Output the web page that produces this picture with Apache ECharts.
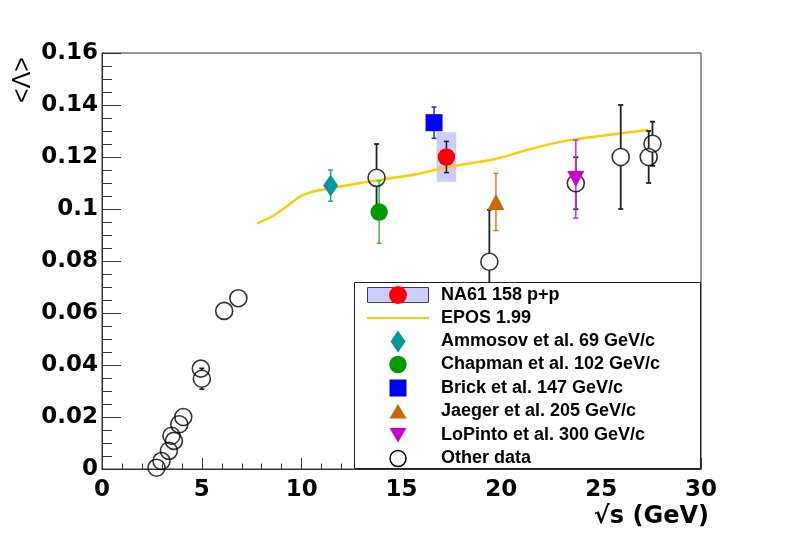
<!DOCTYPE html>
<html>
<head>
<meta charset="utf-8">
<script src="https://cdn.jsdelivr.net/npm/echarts@6/dist/echarts.min.js"></script>
<style>
html,body{margin:0;padding:0;background:#fff;}
#chart{width:788px;height:534px;}
</style>
</head>
<body>
<div id="chart"></div>
<script>
// ---- data (x = sqrt(s) GeV, y = <Lambda>, err) ----
const xTicks = [0, 5, 10, 15, 20, 25, 30];
const yTicks = [0, 0.02, 0.04, 0.06, 0.08, 0.1, 0.12, 0.14, 0.16];

const otherX   = [2.73, 2.98, 3.35, 3.48, 3.6, 3.87, 4.07, 4.95, 5.0, 6.12, 6.83, 13.75, 19.4, 23.73, 25.98, 27.38, 27.57];
const otherY   = [0.0005, 0.0031, 0.0070, 0.0128, 0.0108, 0.0172, 0.0200, 0.0386, 0.0347, 0.0608, 0.0657, 0.1120, 0.0797, 0.1099, 0.1200, 0.1200, 0.1251];
const otherErr = [0, 0, 0, 0, 0, 0, 0, 0, 0.004, 0, 0, 0.013, 0.020, 0.010, 0.020, 0.010, 0.0085];

const na61    = [17.25, 0.1200, 0.0060];   // x, y, stat err
const na61Sys = [17.25, 0.1200, 0.49, 0.0095]; // x, y, half-width, sys err
const ammosov = [11.45, 0.1090, 0.0060];
const chapman = [13.88, 0.0988, 0.0120];
const brick   = [16.63, 0.1332, 0.0060];
const jaeger  = [19.73, 0.1027, 0.0110];
const lopinto = [23.73, 0.1115, 0.0150];

const eposX = [7.77, 8.57, 9.23, 9.9, 10.4, 11.0, 11.57, 13.9, 15.73, 17.25, 19.63, 21.57, 23.23, 25.98, 27.38];
const eposY = [0.0945, 0.0974, 0.1009, 0.1047, 0.1063, 0.1074, 0.1082, 0.1112, 0.1134, 0.1160, 0.1191, 0.1233, 0.1262, 0.1291, 0.1304];

const legendLabels = ['NA61 158 p+p', 'EPOS 1.99', 'Ammosov et al. 69 GeV/c', 'Chapman et al. 102 GeV/c',
  'Brick et al. 147 GeV/c', 'Jaeger et al. 205 GeV/c', 'LoPinto et al. 300 GeV/c', 'Other data'];

// ---- build ----
const FONT = "'Liberation Sans', Arial, Helvetica, sans-serif";
const TFONT = "'DejaVu Sans', 'Liberation Sans', sans-serif";
const otherData = otherX.map((x, i) => [x, otherY[i], otherErr[i]]);

function errSeries(data, color, gap, width) {
  return {
    type: 'custom',
    data: data,
    encode: {x: 0, y: 1},
    z: 3,
    silent: true,
    renderItem: function (params, api) {
      const x = api.value(0), y = api.value(1), e = api.value(2);
      if (!e) return {type: 'group', children: []};
      const p = api.coord([x, y]);
      const t = api.coord([x, y + e]);
      const b = api.coord([x, y - e]);
      const ls = {stroke: color, lineWidth: width || 1.5};
      const ch = [];
      if (t[1] < p[1] - gap) ch.push({type: 'line', shape: {x1: p[0], y1: t[1], x2: p[0], y2: p[1] - gap}, style: ls});
      if (b[1] > p[1] + gap) ch.push({type: 'line', shape: {x1: p[0], y1: p[1] + gap, x2: p[0], y2: b[1]}, style: ls});
      ch.push({type: 'line', shape: {x1: p[0] - 2.5, y1: t[1], x2: p[0] + 2.5, y2: t[1]}, style: ls});
      ch.push({type: 'line', shape: {x1: p[0] - 2.5, y1: b[1], x2: p[0] + 2.5, y2: b[1]}, style: ls});
      return {type: 'group', children: ch};
    }
  };
}

function sc(data, symbol, size, color, rotate) {
  return {
    type: 'scatter',
    data: data.map(d => [d[0], d[1]]),
    symbol: symbol,
    symbolSize: size,
    symbolRotate: rotate || 0,
    itemStyle: {color: color, opacity: 1},
    z: 4,
    silent: true
  };
}

const rowsY = [295, 318, 341.5, 364.5, 388, 411.5, 435, 458.5];
const LX = 398;
const legendEls = [
  {type: 'rect', shape: {x: 354.5, y: 282.5, width: 346, height: 186}, style: {fill: '#fff', stroke: '#222', lineWidth: 1}, z: 100},
  {type: 'rect', shape: {x: 367.5, y: 287.5, width: 61, height: 15}, style: {fill: '#ccccff', stroke: '#444', lineWidth: 1}, z: 101},
  {type: 'circle', shape: {cx: LX, cy: rowsY[0], r: 9}, style: {fill: '#ff0000'}, z: 102},
  {type: 'line', shape: {x1: 367, y1: rowsY[1], x2: 429, y2: rowsY[1]}, style: {stroke: '#ffcc00', lineWidth: 2}, z: 101},
  {type: 'polygon', shape: {points: [[LX, rowsY[2] - 11], [LX + 7.5, rowsY[2]], [LX, rowsY[2] + 11], [LX - 7.5, rowsY[2]]]}, style: {fill: '#009999'}, z: 101},
  {type: 'circle', shape: {cx: LX, cy: rowsY[3], r: 8.7}, style: {fill: '#009900'}, z: 101},
  {type: 'rect', shape: {x: LX - 8.5, y: rowsY[4] - 8.5, width: 17, height: 17}, style: {fill: '#0000ff'}, z: 101},
  {type: 'polygon', shape: {points: [[LX, rowsY[5] - 7.5], [LX + 8.5, rowsY[5] + 7], [LX - 8.5, rowsY[5] + 7]]}, style: {fill: '#cc6600'}, z: 101},
  {type: 'polygon', shape: {points: [[LX - 8.5, rowsY[6] - 7], [LX + 8.5, rowsY[6] - 7], [LX, rowsY[6] + 7.5]]}, style: {fill: '#cc00cc'}, z: 101},
  {type: 'circle', shape: {cx: LX, cy: rowsY[7], r: 8}, style: {fill: 'none', stroke: '#000', lineWidth: 1.5}, z: 101}
];
legendLabels.forEach((t, i) => {
  legendEls.push({type: 'text', x: 441, y: rowsY[i], z: 101,
    style: {text: t, fill: '#000', font: 'bold 18px ' + FONT, align: 'left', verticalAlign: 'middle', textAlign: 'left', textVerticalAlign: 'middle'}});
});
legendEls.push({type: 'text', x: 23, y: 80, rotation: Math.PI / 2, z: 101,
  style: {text: '<Λ>', fill: '#000', font: '25px ' + FONT, align: 'center', verticalAlign: 'middle', textAlign: 'center', textVerticalAlign: 'middle'}});
legendEls.push({type: 'text', x: 709, y: 517, z: 101,
  style: {text: '√s (GeV)', fill: '#000', font: 'bold 24px ' + TFONT, align: 'right', verticalAlign: 'middle', textAlign: 'right', textVerticalAlign: 'middle'}});

const option = {
  animation: false,
  backgroundColor: '#fff',
  grid: {left: 102, right: 87, top: 53, bottom: 65, show: true, borderColor: '#333', borderWidth: 1, backgroundColor: 'transparent'},
  xAxis: {
    type: 'value', min: xTicks[0], max: xTicks[xTicks.length - 1], interval: 5,
    axisLine: {show: true, onZero: false, lineStyle: {color: '#333', width: 1}},
    axisTick: {show: true, inside: true, length: 11, lineStyle: {color: '#333', width: 1}},
    minorTick: {show: true, splitNumber: 5, length: 5.5, lineStyle: {color: '#333', width: 1}},
    splitLine: {show: false},
    axisLabel: {fontFamily: TFONT, fontWeight: 'bold', fontSize: 23, color: '#000', margin: 10, showMinLabel: true, showMaxLabel: true}
  },
  yAxis: {
    type: 'value', min: yTicks[0], max: yTicks[yTicks.length - 1], interval: 0.02,
    axisLine: {show: true, onZero: false, lineStyle: {color: '#333', width: 1}},
    axisTick: {show: true, inside: true, length: 19, lineStyle: {color: '#333', width: 1}},
    minorTick: {show: true, splitNumber: 4, length: 10, lineStyle: {color: '#333', width: 1}},
    splitLine: {show: false},
    axisLabel: {fontFamily: TFONT, fontWeight: 'bold', fontSize: 23, color: '#000', margin: 4,
      formatter: v => yTicks.find(t => Math.abs(t - v) < 1e-9) !== undefined ? String(+v.toFixed(2)) : ''}
  },
  graphic: {elements: legendEls},
  series: [
    {
      type: 'custom', data: [na61Sys], encode: {x: 0, y: 1}, z: 1, silent: true,
      renderItem: function (params, api) {
        const x = api.value(0), y = api.value(1), dx = api.value(2), dy = api.value(3);
        const a = api.coord([x - dx, y + dy]);
        const b = api.coord([x + dx, y - dy]);
        return {type: 'rect', shape: {x: a[0], y: a[1], width: b[0] - a[0], height: b[1] - a[1]}, style: {fill: '#ccccff'}};
      }
    },
    {
      type: 'line', data: eposX.map((x, i) => [x, eposY[i]]), smooth: 0.3,
      showSymbol: false, symbol: 'none', lineStyle: {color: '#ffcc00', width: 2.5}, z: 2, silent: true
    },
    errSeries(otherData, '#222', 8.7, 1.8),
    errSeries([ammosov], '#22a0a0', 0, 1.5),
    errSeries([chapman], '#44b044', 0, 1.5),
    errSeries([brick], '#2222ff', 0, 1.5),
    errSeries([jaeger], '#dd7a22', 0, 1.5),
    errSeries([lopinto], '#dd22dd', 0, 1.5),
    errSeries([na61], '#222', 0, 1.5),
    sc(otherData, 'circle', 17, 'transparent'),
    sc([ammosov], 'diamond', [15, 22], '#009999'),
    sc([chapman], 'circle', 17.5, '#009900'),
    sc([brick], 'rect', 17, '#0000ff'),
    sc([jaeger], 'triangle', [17, 16], '#cc6600'),
    sc([lopinto], 'triangle', [17, 16], '#cc00cc', 180),
    sc([na61], 'circle', 17.5, '#ff0000')
  ]
};
// open circles need a stroke
option.series[9].itemStyle = {color: 'rgba(0,0,0,0)', borderColor: '#000', borderWidth: 1.6};

const chart = echarts.init(document.getElementById('chart'), null, {renderer: 'canvas'});
chart.setOption(option);
</script>
</body>
</html>
